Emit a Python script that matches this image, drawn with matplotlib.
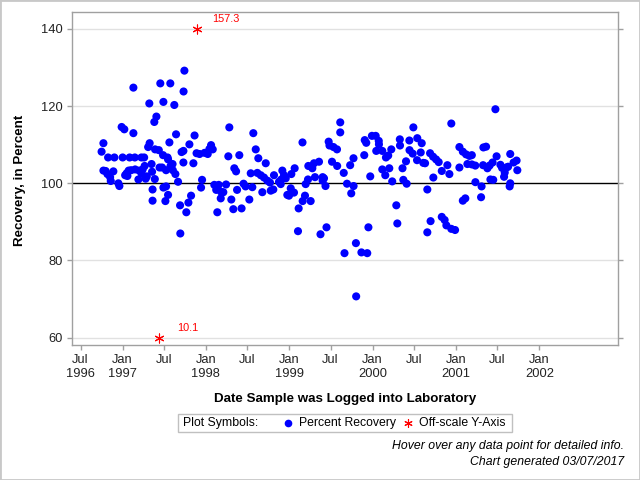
import matplotlib
matplotlib.use('Agg')
import matplotlib.pyplot as plt
from matplotlib.lines import Line2D
from matplotlib.patches import Rectangle
from datetime import datetime

plt.rcParams['font.family'] = ['Liberation Sans', 'DejaVu Sans']

# Sample log dates (decimal years) and percent recovery
dates_dec = [1996.749, 1996.771, 1996.771, 1996.797, 1996.819, 1996.827, 1996.851, 1996.859, 1996.890, 1996.902,
             1996.950, 1996.962, 1996.989, 1997.021, 1997.001, 1997.031, 1997.049, 1997.058, 1997.073, 1997.085,
             1997.103, 1997.130, 1997.130, 1997.147, 1997.151, 1997.190, 1997.199, 1997.229, 1997.226, 1997.241,
             1997.259, 1997.265, 1997.277, 1997.291, 1997.307, 1997.321, 1997.325, 1997.348, 1997.354, 1997.360,
             1997.360, 1997.381, 1997.390, 1997.387, 1997.406, 1997.435, 1997.444, 1997.453, 1997.474, 1997.486,
             1997.490, 1997.490, 1997.514, 1997.522, 1997.522, 1997.540, 1997.546, 1997.546, 1997.562, 1997.573,
             1997.576, 1997.600, 1997.603, 1997.621, 1997.634, 1997.642, 1997.666, 1997.690, 1997.693, 1997.708,
             1997.730, 1997.730, 1997.732, 1997.742, 1997.765, 1997.790, 1997.802, 1997.822, 1997.850, 1997.864,
             1997.888, 1997.924, 1997.942, 1997.954, 1997.984, 1998.022, 1998.042, 1998.062, 1998.082, 1998.101,
             1998.124, 1998.137, 1998.154, 1998.178, 1998.182, 1998.209, 1998.242, 1998.269, 1998.281, 1998.305,
             1998.329, 1998.341, 1998.362, 1998.374, 1998.401, 1998.428, 1998.452, 1998.476, 1998.521, 1998.538,
             1998.557, 1998.569, 1998.598, 1998.617, 1998.629, 1998.658, 1998.677, 1998.697, 1998.718, 1998.737,
             1998.769, 1998.778, 1998.809, 1998.817, 1998.877, 1998.898, 1998.905, 1998.917, 1998.937, 1998.958,
             1998.977, 1998.997, 1999.018, 1999.025, 1999.057, 1999.065, 1999.105, 1999.113, 1999.159, 1999.161,
             1999.189, 1999.197, 1999.225, 1999.229, 1999.257, 1999.277, 1999.297, 1999.309, 1999.357, 1999.375,
             1999.401, 1999.401, 1999.417, 1999.435, 1999.447, 1999.473, 1999.483, 1999.513, 1999.531, 1999.573,
             1999.575, 1999.612, 1999.612, 1999.654, 1999.663, 1999.693, 1999.731, 1999.744, 1999.771, 1999.772,
             1999.800, 1999.803, 1999.866, 1999.900, 1999.906, 1999.924, 1999.936, 1999.950, 1999.972, 1999.992,
             2000.037, 2000.044, 2000.074, 2000.076, 2000.116, 2000.116, 2000.152, 2000.160, 2000.187, 2000.200,
             2000.224, 2000.235, 2000.284, 2000.296, 2000.326, 2000.328, 2000.358, 2000.368, 2000.400, 2000.408,
             2000.440, 2000.442, 2000.480, 2000.488, 2000.535, 2000.532, 2000.576, 2000.588, 2000.607, 2000.628,
             2000.655, 2000.655, 2000.688, 2000.694, 2000.724, 2000.727, 2000.760, 2000.791, 2000.828, 2000.828,
             2000.862, 2000.883, 2000.895, 2000.919, 2000.942, 2000.942, 2000.987, 2001.039, 2001.039, 2001.080,
             2001.080, 2001.110, 2001.119, 2001.135, 2001.159, 2001.188, 2001.188, 2001.230, 2001.231, 2001.305,
             2001.299, 2001.323, 2001.327, 2001.359, 2001.375, 2001.401, 2001.411, 2001.437, 2001.445, 2001.471,
             2001.485, 2001.531, 2001.551, 2001.575, 2001.583, 2001.603, 2001.623, 2001.642, 2001.649, 2001.649,
             2001.689, 2001.725, 2001.734]

recovery = [108.2, 110.4, 103.3, 103.2, 102.4, 106.7, 101.6, 100.6, 103.1, 106.7,
            100.0, 99.3, 114.6, 114.0, 106.7, 102.1, 102.6, 101.9, 103.3, 106.7,
            103.4, 124.8, 113.0, 106.7, 103.6, 101.0, 103.3, 102.5, 106.7, 103.6,
            106.7, 104.5, 101.2, 101.8, 109.4, 120.7, 110.4, 105.0, 103.0, 98.4,
            95.5, 115.9, 108.8, 101.1, 117.3, 108.6, 104.1, 125.9, 104.1, 107.3,
            121.1, 98.9, 95.4, 99.2, 103.4, 106.7, 106.2, 97.0, 110.6, 125.9,
            104.5, 105.0, 103.4, 120.3, 102.4, 112.7, 100.4, 94.3, 87.0, 108.1,
            108.4, 105.4, 123.8, 129.2, 92.5, 95.0, 110.1, 96.8, 105.2, 112.4,
            107.8, 107.6, 98.9, 100.9, 107.9, 107.6, 108.9, 109.9, 108.8, 99.6,
            98.3, 92.5, 99.6, 96.1, 97.8, 97.7, 99.7, 107.0, 114.5, 95.8,
            93.3, 103.9, 103.1, 98.3, 107.3, 93.5, 99.9, 99.2, 95.8, 102.6,
            99.0, 113.0, 108.8, 102.7, 106.5, 102.1, 97.7, 101.5, 105.2, 100.7,
            100.2, 98.1, 98.4, 102.1, 100.4, 99.8, 101.0, 103.3, 102.1, 101.3,
            97.0, 96.8, 98.7, 102.4, 97.6, 103.9, 87.6, 93.5, 110.6, 95.4,
            96.8, 99.8, 101.0, 104.5, 95.4, 103.9, 105.2, 101.6, 105.6, 86.8,
            101.6, 100.7, 101.3, 99.3, 88.6, 110.8, 109.8, 105.6, 109.4, 108.8,
            104.5, 115.8, 113.2, 102.7, 81.9, 99.9, 104.7, 97.4, 106.5, 99.3,
            84.5, 70.7, 82.1, 107.3, 111.2, 110.5, 81.9, 88.6, 101.8, 112.3,
            112.3, 108.4, 111.0, 110.1, 108.4, 103.6, 102.1, 106.7, 107.2, 103.9,
            108.8, 100.5, 94.3, 89.6, 111.4, 109.8, 103.9, 100.9, 105.7, 99.9,
            111.1, 108.6, 107.7, 114.5, 111.7, 106.0, 108.0, 110.4, 105.3, 105.2,
            98.4, 87.3, 107.8, 90.2, 106.9, 101.5, 106.2, 105.5, 103.2, 91.3,
            90.5, 89.1, 104.7, 102.4, 115.5, 88.2, 87.9, 109.4, 104.1, 108.2,
            95.5, 96.1, 107.5, 105.0, 107.1, 107.3, 104.9, 104.6, 100.3, 99.2,
            96.4, 104.7, 109.3, 109.5, 103.9, 104.6, 101.0, 105.4, 100.9, 119.2,
            107.0, 104.8, 104.0, 101.7, 102.8, 104.1, 104.3, 99.2, 100.0, 107.6,
            105.4, 105.9, 103.4]

# Off-scale points: true value and the plotted (clipped) position
off_dates_dec = [1997.442, 1997.898]
off_true = [10.1, 157.3]
off_plot = [60, 140]

tick_dates = ['1996-07-01', '1997-01-01', '1997-07-01', '1998-01-01', '1998-07-01', '1999-01-01',
              '1999-07-01', '2000-01-01', '2000-07-01', '2001-01-01', '2001-07-01', '2002-01-01']
tick_labels = ['Jul\n1996', 'Jan\n1997', 'Jul', 'Jan\n1998', 'Jul', 'Jan\n1999',
               'Jul', 'Jan\n2000', 'Jul', 'Jan\n2001', 'Jul', 'Jan\n2002']
y_ticks = [60, 80, 100, 120, 140]


def to_dt(y):
    yr = int(y)
    s = datetime(yr, 1, 1)
    e = datetime(yr + 1, 1, 1)
    return s + (e - s) * (y - yr)


W, H = 640, 480
fig = plt.figure(figsize=(6.4, 4.8), dpi=100)
ax = fig.add_axes([72 / W, 1 - 345 / H, (618 - 72) / W, (345 - 12) / H])

for v in y_ticks:
    if v != 100:
        ax.axhline(v, color='#e1e1e1', lw=1, zorder=0)
ax.axhline(100, color='black', lw=1, zorder=1)

dts = [to_dt(d) for d in dates_dec]
ax.scatter(dts, recovery, s=34, c='#0000ff', edgecolors='none', zorder=3)

off_dts = [to_dt(d) for d in off_dates_dec]
ax.scatter(off_dts, off_plot, marker=(6, 2, 0), s=42, c='#ff0000', linewidths=0.8, zorder=4)
for d, p, t in zip(off_dts, off_plot, off_true):
    ax.annotate(f'{t}', (d, p), xytext=(28, 10), textcoords='offset pixels',
                ha='center', va='center', color='#ff0000', fontsize=7.8)

ax.set_xlim(to_dt(1996.395), to_dt(2002.942))
ax.set_ylim(58.1, 144.4)
ax.set_xticks([datetime.strptime(t, '%Y-%m-%d') for t in tick_dates])
ax.set_xticklabels(tick_labels, fontsize=9.3, color='#222222')
ax.set_yticks(y_ticks)
ax.set_yticklabels([str(v) for v in y_ticks], fontsize=9.3, color='#222222')
ax.tick_params(axis='both', direction='out', length=3.6, width=1, color='#a0a0a0', pad=3)
ax.tick_params(axis='y', right=True, labelright=False)
for sp in ax.spines.values():
    sp.set_color('#a0a0a0')
    sp.set_linewidth(1)

fig.text(345 / W, 1 - 399 / H, 'Date Sample was Logged into Laboratory', ha='center', va='center',
         fontsize=9.6, fontweight='bold')
fig.text(20 / W, 1 - 180 / H, 'Recovery, in Percent', ha='center', va='center', rotation=90,
         fontsize=9.6, fontweight='bold')

# legend box
fig.add_artist(Rectangle((178 / W, 1 - 432 / H), (512 - 178) / W, (432 - 414) / H, fill=False,
                         edgecolor='#c0c0c0', lw=1, transform=fig.transFigure))
ly = 1 - 423 / H
fig.text(183 / W, ly, 'Plot Symbols:', va='center', fontsize=8.8)
fig.add_artist(Line2D([288.3 / W], [ly], marker='o', markersize=5.5, color='#0000ff', lw=0,
                      markeredgewidth=0, transform=fig.transFigure))
fig.text(299 / W, ly, 'Percent Recovery', va='center', fontsize=8.8)
fig.add_artist(Line2D([408 / W], [ly], marker=(6, 2, 0), markersize=6, color='#ff0000', lw=0,
                      markeredgewidth=0.8, transform=fig.transFigure))
fig.text(419 / W, ly, 'Off-scale Y-Axis', va='center', fontsize=8.8)

fig.text(624 / W, 1 - 446.5 / H, 'Hover over any data point for detailed info.', ha='right', va='center',
         fontsize=8.8, style='italic')
fig.text(624 / W, 1 - 462.5 / H, 'Chart generated 03/07/2017', ha='right', va='center',
         fontsize=8.8, style='italic')

fig.add_artist(Rectangle((0, 0), 1, 1, fill=False, edgecolor='#c8c8c8', lw=2, transform=fig.transFigure))

fig.savefig('out.png', dpi=100)
